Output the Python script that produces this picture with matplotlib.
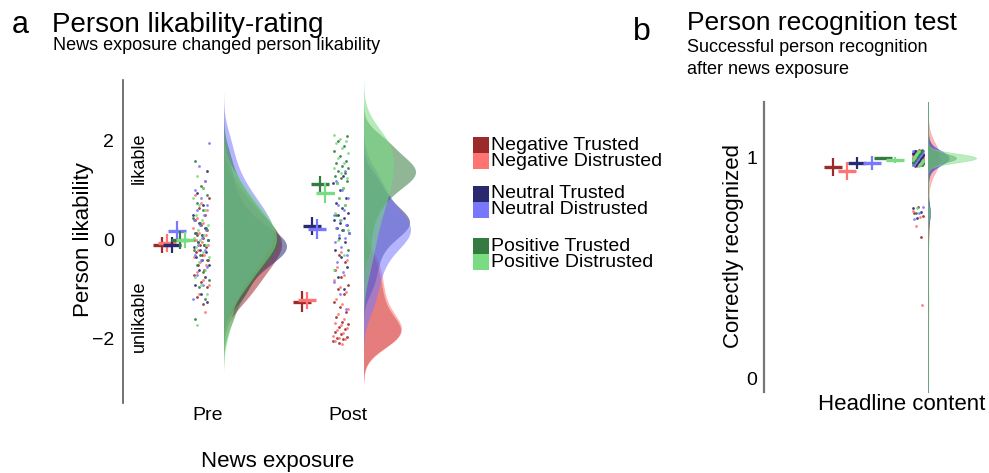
import numpy as np
import matplotlib
matplotlib.use("Agg")
import matplotlib.pyplot as plt
from matplotlib.patches import Rectangle

plt.rcParams['font.family'] = ['Liberation Sans', 'DejaVu Sans']

# ---------------- data ----------------
conditions = ['Negative Trusted', 'Negative Distrusted',
              'Neutral Trusted', 'Neutral Distrusted',
              'Positive Trusted', 'Positive Distrusted']
colors = ['#9B2B2B', '#FF7373', '#292A6E', '#7878FF', '#357A3F', '#78DC82']
times = ['Pre', 'Post']

# person likability ratings (panel a), one list per condition
pre_points = [
    [-1.3, -1.15, -0.95, -0.85, -0.7, -0.6, -0.5, -0.4, -0.3, -0.25, -0.15, -0.1, 0.0, 0.05, 0.1, 0.2, 0.3, 0.4, 0.5, 0.65, 0.85, 1.05],
    [-1.45, -1.1, -0.9, -0.8, -0.65, -0.5, -0.45, -0.35, -0.3, -0.2, -0.1, -0.05, 0.0, 0.1, 0.15, 0.25, 0.35, 0.45, 0.6, 0.75, 0.9, 1.2],
    [-1.25, -1.1, -0.9, -0.75, -0.6, -0.5, -0.4, -0.35, -0.25, -0.2, -0.15, -0.1, -0.05, 0.0, 0.1, 0.15, 0.25, 0.35, 0.5, 0.7, 0.95, 1.4],
    [-1.2, -0.9, -0.7, -0.55, -0.4, -0.3, -0.2, -0.1, 0.0, 0.05, 0.15, 0.2, 0.3, 0.4, 0.5, 0.6, 0.7, 0.85, 1.0, 1.2, 1.5, 1.95],
    [-1.6, -1.2, -0.95, -0.8, -0.65, -0.5, -0.4, -0.3, -0.2, -0.1, -0.05, 0.0, 0.1, 0.15, 0.25, 0.35, 0.45, 0.6, 0.75, 0.9, 1.1, 1.6],
    [-1.72, -1.1, -0.9, -0.75, -0.6, -0.45, -0.35, -0.25, -0.15, -0.1, 0.0, 0.05, 0.1, 0.2, 0.3, 0.4, 0.5, 0.6, 0.7, 0.85, 1.05, 1.3],
]
post_points = [
    [-2.08, -2.05, -2.0, -1.98, -1.95, -1.9, -1.85, -1.8, -1.75, -1.7, -1.65, -1.55, -1.45, -1.35, -1.25, -1.1, -1.0, -0.9, -0.75, -0.6, -0.45, -0.3],
    [-2.1, -2.05, -2.0, -1.97, -1.93, -1.88, -1.82, -1.78, -1.72, -1.68, -1.6, -1.5, -1.4, -1.3, -1.2, -1.05, -0.95, -0.8, -0.7, -0.55, -0.4, -0.25],
    [-1.0, -0.75, -0.55, -0.35, -0.2, -0.05, 0.05, 0.15, 0.2, 0.25, 0.3, 0.35, 0.4, 0.45, 0.5, 0.55, 0.65, 0.75, 0.85, 1.0, 1.15, 1.3],
    [-1.4, -1.1, -0.85, -0.65, -0.45, -0.3, -0.15, -0.05, 0.05, 0.1, 0.15, 0.2, 0.25, 0.3, 0.4, 0.5, 0.6, 0.7, 0.85, 1.0, 1.2, 1.4],
    [-0.2, 0.2, 0.5, 0.7, 0.85, 0.95, 1.05, 1.15, 1.2, 1.25, 1.3, 1.35, 1.4, 1.45, 1.5, 1.55, 1.6, 1.7, 1.8, 1.9, 2.0, 2.1],
    [-0.6, -0.3, 0.0, 0.2, 0.4, 0.55, 0.7, 0.85, 0.95, 1.05, 1.15, 1.25, 1.35, 1.45, 1.55, 1.65, 1.75, 1.85, 1.95, 2.0, 2.05, 2.12],
]
means_pre = [-0.10, -0.06, -0.10, 0.18, 0.00, 0.00]
ci_pre = [0.16, 0.19, 0.17, 0.20, 0.18, 0.17]
means_post = [-1.25, -1.22, 0.28, 0.22, 1.13, 0.95]
ci_post = [0.21, 0.17, 0.18, 0.20, 0.16, 0.20]

# person recognition (panel b): proportion levels and counts per condition
recog_levels = [1.0, 0.75, 0.667, 0.333]
recog_counts = [
    [28, 3, 1, 0],
    [28, 2, 1, 1],
    [29, 3, 0, 0],
    [29, 3, 0, 0],
    [31, 1, 0, 0],
    [31, 1, 0, 0],
]
recog_means = [0.959, 0.941, 0.977, 0.977, 0.998, 0.990]
recog_ci = [0.039, 0.040, 0.027, 0.030, 0.008, 0.013]

# ---------------- styling / layout ----------------
W, H = 989, 473
A_POS = [0.0, 1.40]                       # group positions Pre / Post
A_CROSS = [-0.46, -0.41, -0.365, -0.315, -0.28, -0.23]
A_JIT_C, A_JIT_HW, A_BASE = -0.07, 0.08, 0.155
A_PEAK = [[0.58, 0.56, 0.63, 0.50, 0.55, 0.53],
          [0.37, 0.38, 0.46, 0.47, 0.52, 0.30]]
B_CROSS = [-0.85, -0.71, -0.61, -0.46, -0.35, -0.23]
B_JIT_HW, B_JIT_V, B_BASE = 0.055, 0.035, 0.10
B_PEAK = [0.10, 0.12, 0.20, 0.21, 0.28, 0.48]
HALF_W = 0.09
GOLD = 0.6180339887


def kde(values, grid):
    v = np.asarray(values, float)
    n = len(v)
    sd = v.std(ddof=1)
    q75, q25 = np.percentile(v, [75, 25])
    lo = min(sd, (q75 - q25) / 1.34)
    if lo <= 0:
        lo = sd
    bw = 0.9 * lo * n ** -0.2
    d = np.exp(-0.5 * ((grid[:, None] - v[None, :]) / bw) ** 2).sum(1)
    return d / (n * bw * np.sqrt(2 * np.pi)), bw


def jitter(n, k, hw, phase=0.0):
    i = np.arange(n)
    return (((i + 1) * GOLD + k * 0.1309 + phase) % 1.0 - 0.5) * 2 * hw


fig = plt.figure(figsize=(W / 100, H / 100), dpi=100)

def fx(px):
    return px / W

def fy(py):
    return 1 - py / H

# ---------------- panel a ----------------
axa = fig.add_axes([fx(123), fy(403), fx(470) - fx(123), fy(80) - fy(403)])
axa.set_xlim(-0.85, 2.62)
axa.set_ylim(-3.293, 3.232)

for t, (pts_all, means, cis) in enumerate([(pre_points, means_pre, ci_pre),
                                          (post_points, means_post, ci_post)]):
    g = A_POS[t]
    # densities
    for k, vals in enumerate(pts_all):
        v = np.asarray(vals, float)
        _, bw = kde(v, np.array([0.0]))
        grid = np.linspace(v.min() - 3 * bw, v.max() + 3 * bw, 300)
        d, _ = kde(v, grid)
        d = d / d.max() * A_PEAK[t][k]
        axa.fill_betweenx(grid, g + A_BASE, g + A_BASE + d, color=colors[k],
                          alpha=0.55, linewidth=0, zorder=2)
    # jittered points
    for k, vals in enumerate(pts_all):
        v = np.asarray(vals, float)
        axa.scatter(g + A_JIT_C + jitter(len(v), k + 6 * t, A_JIT_HW), v, s=4,
                    color=colors[k], alpha=0.9, linewidths=0, zorder=3)
    # mean + CI crosses
    for k in range(6):
        x = g + A_CROSS[k]
        axa.vlines(x, means[k] - cis[k], means[k] + cis[k], color=colors[k], lw=1.6, zorder=4)
        axa.hlines(means[k], x - HALF_W, x + HALF_W, color=colors[k], lw=2.4, zorder=4)

axa.set_xticks(A_POS)
axa.set_xticklabels(times, fontsize=14)
axa.set_yticks([-2, 0, 2])
axa.set_yticklabels(['\u22122', '0', '2'], fontsize=14)
axa.tick_params(axis='x', length=0, pad=3)
axa.tick_params(axis='y', length=0, pad=6.5)
for s in ['top', 'right', 'bottom']:
    axa.spines[s].set_visible(False)
axa.spines['left'].set_color('#5a5a5a')
axa.spines['left'].set_linewidth(1.2)
axa.text(-0.69, 1.66, 'likable', rotation=90, ha='center', va='center', fontsize=13)
axa.text(-0.69, -1.54, 'unlikable', rotation=90, ha='center', va='center', fontsize=13)

# ---------------- panel b ----------------
axb = fig.add_axes([fx(764), fy(392), fx(985) - fx(764), fy(102) - fy(392)])
axb.set_xlim(-1.54, 0.67)
axb.set_ylim(-0.0636, 1.2545)
gridb = np.linspace(-0.0636, 1.2545, 800)
for k in range(6):
    v = np.repeat(recog_levels, recog_counts[k])
    d, _ = kde(v, gridb)
    d = d / d.max() * B_PEAK[k]
    axb.fill_betweenx(gridb, B_BASE, B_BASE + d, facecolor=colors[k], alpha=0.5,
                      edgecolor=colors[k], linewidth=0.5, zorder=2)
for k in range(6):
    v = np.repeat(recog_levels, recog_counts[k])
    axb.scatter(jitter(len(v), k, B_JIT_HW), v + jitter(len(v), k, B_JIT_V, 0.37 + 0.2 * k) * 0.999,
                s=4, color=colors[k], alpha=0.9, linewidths=0, zorder=3)
for k in range(6):
    x = B_CROSS[k]
    m, c = recog_means[k], recog_ci[k]
    axb.vlines(x, m - c, m + c, color=colors[k], lw=1.6, zorder=4)
    axb.hlines(m, x - HALF_W, x + HALF_W, color=colors[k], lw=2.4, zorder=4)

axb.set_xticks([])
axb.set_yticks([0, 1])
axb.set_yticklabels(['0', '1'], fontsize=14)
axb.tick_params(axis='y', length=0, pad=5)
for s in ['top', 'right', 'bottom']:
    axb.spines[s].set_visible(False)
axb.spines['left'].set_color('#777777')
axb.spines['left'].set_linewidth(1.6)

# ---------------- texts ----------------
fig.text(fx(12), fy(33), 'a', fontsize=22, va='baseline')
fig.text(fx(52), fy(32), 'Person likability-rating', fontsize=20, va='baseline')
fig.text(fx(53), fy(50), 'News exposure changed person likability', fontsize=13, va='baseline')
fig.text(fx(633), fy(40), 'b', fontsize=23, va='baseline')
fig.text(fx(687), fy(30), 'Person recognition test', fontsize=19, va='baseline')
fig.text(fx(687), fy(52), 'Successful person recognition', fontsize=13, va='baseline')
fig.text(fx(687), fy(74), 'after news exposure', fontsize=13, va='baseline')

fig.text(fx(83), fy(240), 'Person likability', rotation=90, ha='center', va='center', fontsize=16)
fig.text(fx(278), fy(467), 'News exposure', ha='center', va='baseline', fontsize=16)
fig.text(fx(733), fy(246), 'Correctly recognized', rotation=90, ha='center', va='center', fontsize=16)
fig.text(fx(902), fy(410), 'Headline content', ha='center', va='baseline', fontsize=16)

# ---------------- legend ----------------
sq_tops = [137, 153, 186, 202, 238, 254]
for k in range(6):
    fig.add_artist(Rectangle((fx(473), fy(sq_tops[k] + 16)), fx(16), fy(0) - fy(16),
                             transform=fig.transFigure, facecolor=colors[k], edgecolor='none'))
    fig.text(fx(491), fy(sq_tops[k] + 8), conditions[k], fontsize=14, va='center')

fig.savefig('out.png', dpi=100)
